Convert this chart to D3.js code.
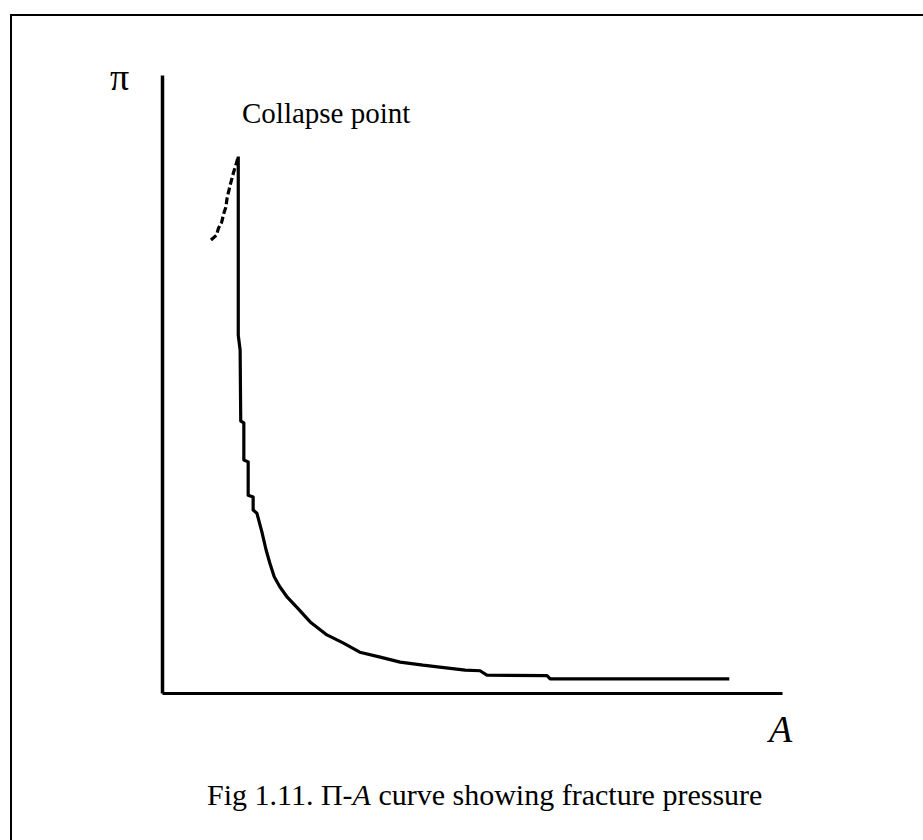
<!DOCTYPE html>
<html>
<head>
<meta charset="utf-8">
<script src="https://cdn.jsdelivr.net/npm/d3@7"></script>
<style>
  html, body { margin: 0; padding: 0; background: #fff; }
  svg { display: block; }
  text { font-family: "Liberation Serif", "Times New Roman", serif; fill: #000; }
</style>
</head>
<body>
<svg id="chart" width="923" height="840"></svg>
<script>
// Pi-A isotherm, values (arbitrary units, 0..100)
const areaValues = [12.3, 12.3, 12.6, 12.7, 13.2, 13.2, 13.9, 13.9, 14.7, 14.7, 15.3, 16.1, 16.8, 17.4, 18.1, 19.0, 20.2, 21.8, 23.9, 26.6, 29.2, 31.9, 35.2, 38.4, 42.1, 44.8, 48.9, 51.3, 52.4, 62.1, 62.6, 91.5];
const pressureValues = [86.8, 57.9, 55.5, 44.0, 43.7, 37.7, 37.4, 32.0, 31.7, 29.6, 29.1, 26.1, 23.1, 21.0, 18.8, 17.2, 15.5, 13.8, 11.5, 9.4, 8.1, 6.6, 5.8, 5.0, 4.5, 4.2, 3.7, 3.6, 2.9, 2.8, 2.3, 2.3];

// the dashed branch going up to the collapse point
const branchArea = [7.9, 8.8, 9.1, 9.6, 10.0, 10.3, 10.5, 11.0, 11.5, 11.9, 12.3];
const branchPressure = [73.3, 74.1, 75.2, 76.1, 77.7, 78.6, 80.1, 82.2, 84.1, 85.4, 86.8];

const yLabel = "π";
const xLabel = "A";
const annotation = "Collapse point";
const captionParts = ["Fig 1.11. Π-", "A", " curve showing fracture pressure"];

const svg = d3.select("#chart");

// scales: the axes have no ticks, only the two lines
const x = d3.scaleLinear().domain([0, 100]).range([162, 782]);
const y = d3.scaleLinear().domain([0, 100]).range([693, 75]);

// frame of the scanned page (only top and left edges show)
svg.append("path")
  .attr("d", "M11,840 L11,15 L923,15")
  .attr("fill", "none")
  .attr("stroke", "#000")
  .attr("stroke-width", 2);

// axes
svg.append("g")
  .attr("transform", `translate(0,${y(0)})`)
  .call(d3.axisBottom(x).tickValues([]).tickSizeOuter(0))
  .select(".domain")
    .attr("stroke", "#000")
    .attr("stroke-width", 3);

svg.append("g")
  .attr("transform", `translate(${x(0)},0)`)
  .call(d3.axisLeft(y).tickValues([]).tickSizeOuter(0))
  .select(".domain")
    .attr("stroke", "#000")
    .attr("stroke-width", 3.5);

let line = d3.line()
  .x(d => x(d[0]))
  .y(d => y(d[1]));

let curve = d3.zip(areaValues, pressureValues);
let branch = d3.zip(branchArea, branchPressure);

// main curve
svg.append("path")
  .datum(curve)
  .attr("fill", "none")
  .attr("stroke", "#000")
  .attr("stroke-width", 3.2)
  .attr("stroke-linejoin", "round")
  .attr("d", line);

// dashed branch
svg.append("path")
  .datum(branch)
  .attr("fill", "none")
  .attr("stroke", "#000")
  .attr("stroke-width", 3.2)
  .attr("stroke-dasharray", "7,3")
  .attr("d", line);

// labels
svg.append("text")
  .attr("x", 110)
  .attr("y", 90)
  .attr("font-size", 38)
  .text(yLabel);

svg.append("text")
  .attr("x", 242)
  .attr("y", 123)
  .attr("font-size", 29)
  .text(annotation);

svg.append("text")
  .attr("x", 769)
  .attr("y", 742)
  .attr("font-size", 38)
  .attr("font-style", "italic")
  .text(xLabel);

let caption = svg.append("text")
  .attr("x", 207)
  .attr("y", 805)
  .attr("font-size", 30);

caption.selectAll("tspan")
  .data(captionParts)
  .enter().append("tspan")
    .attr("font-style", (d, i) => i == 1 ? "italic" : null)
    .text(d => d);
</script>
</body>
</html>
